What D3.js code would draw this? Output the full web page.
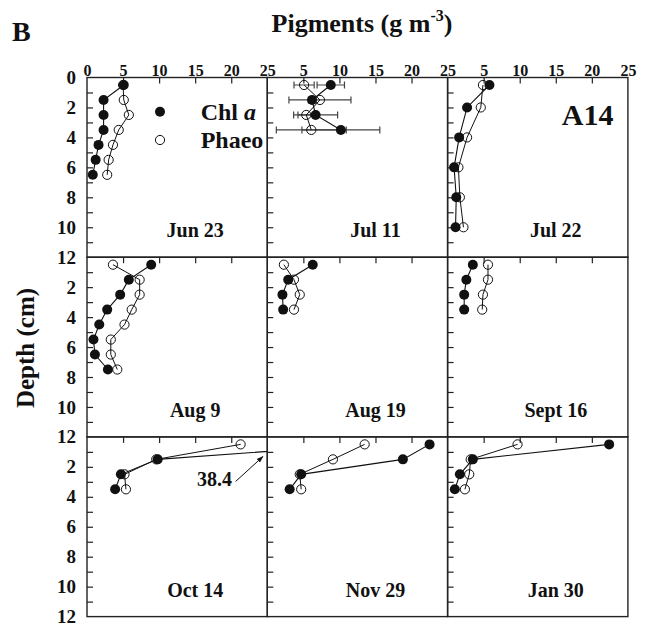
<!DOCTYPE html>
<html>
<head>
<meta charset="utf-8">
<script src="https://cdn.jsdelivr.net/npm/d3@7"></script>
<style>
  body { margin: 0; background: #fff; }
  svg text { font-family: "Liberation Serif", "Times New Roman", serif; font-weight: bold; fill: #111; }
</style>
</head>
<body>
<svg id="chart" width="654" height="630"></svg>
<script>
// panels go left-to-right, top-to-bottom
const dates = ["Jun 23", "Jul 11", "Jul 22", "Aug 9", "Aug 19", "Sept 16", "Oct 14", "Nov 29", "Jan 30"];

const depths = [
    [0.5, 1.5, 2.5, 3.5, 4.5, 5.5, 6.5],
    [0.5, 1.5, 2.5, 3.5],
    [0.5, 2, 4, 6, 8, 10],
    [0.5, 1.5, 2.5, 3.5, 4.5, 5.5, 6.5, 7.5],
    [0.5, 1.5, 2.5, 3.5],
    [0.5, 1.5, 2.5, 3.5],
    [0.5, 1.5, 2.5, 3.5],
    [0.5, 1.5, 2.5, 3.5],
    [0.5, 1.5, 2.5, 3.5]
];

const chlA = [
    [5.1, 2.3, 2.3, 2.3, 1.6, 1.2, 0.8],
    [8.8, 6.2, 6.7, 10.2],
    [5.8, 2.7, 1.6, 0.9, 1.2, 1.1],
    [8.9, 5.8, 4.6, 2.8, 1.7, 0.9, 1.1, 2.9],
    [6.3, 2.9, 2.1, 2.2],
    [3.5, 2.6, 2.3, 2.3],
    [38.4, 9.8, 4.7, 3.9],
    [22.5, 18.8, 4.7, 3.1],
    [22.4, 3.5, 1.7, 1.0]
];

const phaeo = [
    [5.0, 5.1, 5.8, 4.4, 3.6, 3.0, 2.8],
    [5.1, 7.3, 5.4, 6.1],
    [4.9, 4.6, 2.7, 1.5, 1.7, 2.2],
    [3.6, 7.3, 7.3, 6.2, 5.2, 3.3, 3.3, 4.2],
    [2.3, 3.7, 4.5, 3.7],
    [5.6, 5.6, 4.9, 4.8],
    [21.3, 9.6, 5.2, 5.4],
    [13.5, 9.1, 4.5, 4.7],
    [9.7, 3.2, 3.0, 2.4]
];

// +/- errors, only given for Jul 11
const errPanel = 1;
const chlErr = [1.9, 0.5, 3.05, 5.4];
const phaeoErr = [1.4, 4.3, 1.15, 4.85];

const xTicks = [0, 5, 10, 15, 20, 25];
const yTicks = [0, 2, 4, 6, 8, 10, 12];
const yMinor = [1, 2, 3, 4, 5, 6, 7, 8, 9, 10, 11];

const svg = d3.select("#chart");
svg.append("rect").attr("width", 654).attr("height", 630).attr("fill", "#fff");

const padLeft = 87, padTop = 77.5, pw = 180.3, ph = 179.7;

const x = d3.scaleLinear().domain([0, 25]).range([0, pw]);
const y = d3.scaleLinear().domain([0, 12]).range([0, ph]);

const defs = svg.append("defs");
defs.append("clipPath").attr("id", "clip")
    .append("rect").attr("width", pw).attr("height", ph);

defs.append("marker")
    .attr("id", "arrow")
    .attr("viewBox", "0 0 10 10")
    .attr("refX", 9).attr("refY", 5)
    .attr("markerWidth", 7).attr("markerHeight", 7)
    .attr("orient", "auto")
    .append("path").attr("d", "M0,1.5L10,5L0,8.5z").attr("fill", "#111");

const line = d3.line()
    .x(d => x(d.v))
    .y(d => y(d.d));

dates.forEach((date, i) => {
    const col = i % 3, row = Math.floor(i / 3);
    const g = svg.append("g")
        .attr("transform", "translate(" + (padLeft + col * pw) + "," + (padTop + row * ph) + ")");

    // inner ticks
    g.append("g")
        .call(d3.axisBottom(x).tickValues(xTicks.slice(1, -1)).tickSize(6).tickFormat(""))
        .call(a => a.select(".domain").remove())
        .selectAll("line").attr("stroke", "#222").attr("stroke-width", 1.2);
    g.append("g")
        .call(d3.axisRight(y).tickValues(yMinor).tickSize(6).tickFormat(""))
        .call(a => a.select(".domain").remove())
        .selectAll("line").attr("stroke", "#222").attr("stroke-width", 1.2);

    // tick labels on the outside
    if (row === 0) {
        g.append("g")
            .call(d3.axisTop(x).tickValues(col === 0 ? xTicks : xTicks.slice(1)).tickSize(0).tickPadding(2))
            .attr("font-size", 16)
            .call(a => a.select(".domain").remove());
    }
    if (col === 0) {
        g.append("g")
            .call(d3.axisLeft(y).tickValues(row === 0 ? yTicks : yTicks.slice(1)).tickSize(0).tickPadding(11))
            .attr("font-size", 19)
            .call(a => a.select(".domain").remove());
    }

    g.append("rect")
        .attr("width", pw).attr("height", ph)
        .attr("fill", "none").attr("stroke", "#222").attr("stroke-width", 1.4);

    const chl = depths[i].map((d, k) => ({d: d, v: chlA[i][k]}));
    const pha = depths[i].map((d, k) => ({d: d, v: phaeo[i][k]}));

    const plot = g.append("g").attr("clip-path", "url(#clip)");

    if (i === errPanel) {
        const bars = [];
        chl.forEach((p, k) => bars.push({d: p.d, v: p.v, e: chlErr[k]}));
        pha.forEach((p, k) => bars.push({d: p.d, v: p.v, e: phaeoErr[k]}));
        const eb = plot.selectAll(".err").data(bars).enter().append("g")
            .attr("stroke", "#444").attr("stroke-width", 1.2);
        eb.append("line")
            .attr("x1", d => x(d.v - d.e)).attr("x2", d => x(d.v + d.e))
            .attr("y1", d => y(d.d)).attr("y2", d => y(d.d));
        eb.append("line")
            .attr("x1", d => x(d.v - d.e)).attr("x2", d => x(d.v - d.e))
            .attr("y1", d => y(d.d) - 3.5).attr("y2", d => y(d.d) + 3.5);
        eb.append("line")
            .attr("x1", d => x(d.v + d.e)).attr("x2", d => x(d.v + d.e))
            .attr("y1", d => y(d.d) - 3.5).attr("y2", d => y(d.d) + 3.5);
    }

    plot.append("path").datum(pha)
        .attr("d", line).attr("fill", "none").attr("stroke", "#111").attr("stroke-width", 1);
    plot.selectAll(".pha").data(pha).enter().append("circle")
        .attr("cx", d => x(d.v)).attr("cy", d => y(d.d)).attr("r", 4.6)
        .attr("fill", "none").attr("stroke", "#111").attr("stroke-width", 1);

    plot.append("path").datum(chl)
        .attr("d", line).attr("fill", "none").attr("stroke", "#111").attr("stroke-width", 1.1);
    plot.selectAll(".chl").data(chl).enter().append("circle")
        .attr("cx", d => x(d.v)).attr("cy", d => y(d.d)).attr("r", 5)
        .attr("fill", "#111");

    g.append("text")
        .attr("x", x(15)).attr("y", y(10.2) + 7)
        .attr("text-anchor", "middle")
        .attr("font-size", 20)
        .text(date);

    // off-scale value label
    if (i === 6) {
        g.append("text")
            .attr("x", x(20.1)).attr("y", y(3.27))
            .attr("text-anchor", "end").attr("font-size", 20)
            .text("38.4");
        g.append("line")
            .attr("x1", x(20.6)).attr("y1", y(2.98))
            .attr("x2", x(24.4)).attr("y2", y(1.31))
            .attr("stroke", "#111").attr("stroke-width", 1)
            .attr("marker-end", "url(#arrow)");
    }

    if (i === 0) {
        const lg = g.append("g");
        lg.append("circle").attr("cx", 73).attr("cy", 34.2).attr("r", 5).attr("fill", "#111");
        lg.append("circle").attr("cx", 73).attr("cy", 62.5).attr("r", 4.6)
            .attr("fill", "none").attr("stroke", "#111");
        const t1 = lg.append("text").attr("x", 113.7).attr("y", 42.5).attr("font-size", 24);
        t1.append("tspan").text("Chl ");
        t1.append("tspan").attr("font-style", "italic").text("a");
        lg.append("text").attr("x", 113.7).attr("y", 70.8).attr("font-size", 24).text("Phaeo");
    }

    if (i === 2) {
        g.append("text")
            .attr("x", 165.8).attr("y", 47.5)
            .attr("text-anchor", "end").attr("font-size", 30)
            .text("A14");
    }
});

svg.append("text")
    .attr("x", 12).attr("y", 41)
    .attr("font-size", 28)
    .text("B");

const title = svg.append("text")
    .attr("x", 362).attr("y", 32)
    .attr("text-anchor", "middle")
    .attr("font-size", 26);
title.append("tspan").text("Pigments (g m");
title.append("tspan").attr("font-size", 16).attr("dy", -11).text("-3");
title.append("tspan").attr("dy", 11).text(")");

svg.append("text")
    .attr("transform", "translate(34,348) rotate(-90)")
    .attr("text-anchor", "middle")
    .attr("font-size", 25)
    .text("Depth (cm)");
</script>
</body>
</html>
